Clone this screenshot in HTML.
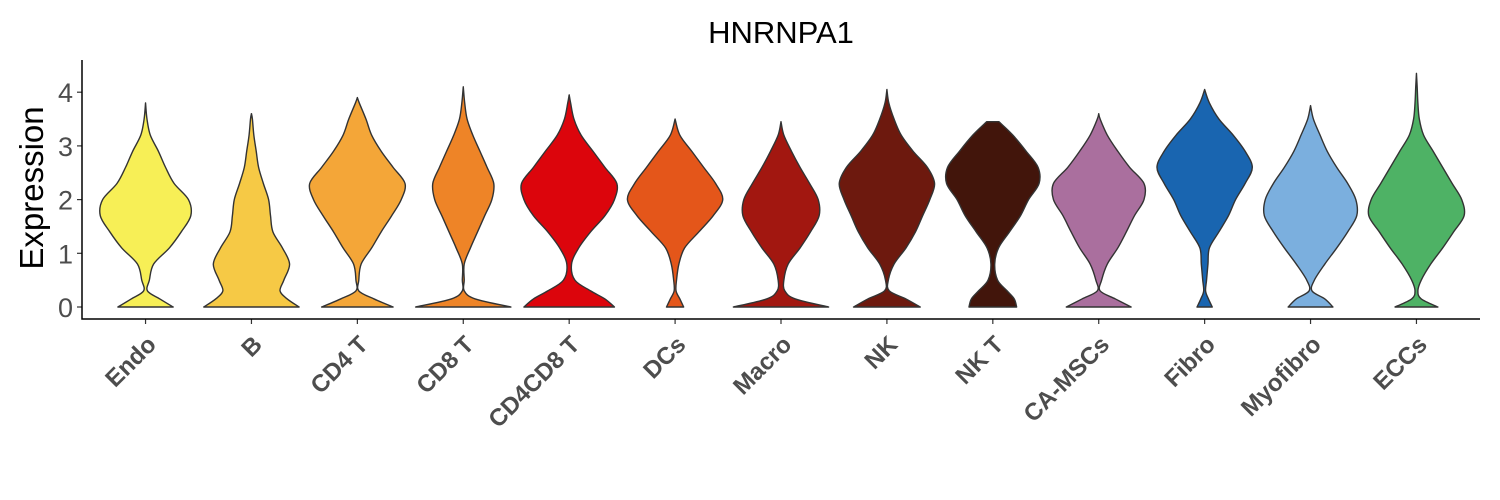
<!DOCTYPE html>
<html><head><meta charset="utf-8"><style>
body{margin:0;background:#fff;}
svg{display:block;font-family:"Liberation Sans",Arial,sans-serif;}
</style></head><body>
<svg id="chart" width="1500" height="500" viewBox="0 0 1500 500">
<text x="781" y="43" font-size="31" text-anchor="middle" fill="#000">HNRNPA1</text>
<text transform="translate(43,188) rotate(-90)" font-size="33" text-anchor="middle" fill="#000">Expression</text>
<g id="plot"></g>
</svg>
<script>
const categories=["Endo","B","CD4 T","CD8 T","CD4CD8 T","DCs","Macro","NK","NK T","CA-MSCs","Fibro","Myofibro","ECCs"];
const colors=["#F7EF56","#F6C945","#F4A638","#EE8427","#DC050C","#E4561A","#A21710","#6D190E","#42150B","#AA6F9E","#1965B0","#7BAFDE","#4EB265"];
const levels=[0,0.15,0.3,0.5,0.8,1.1,1.4,1.7,2.0,2.3,2.6,2.9,3.2,3.5,3.8,4.1];
const tops=[3.8,3.6,3.9,4.1,3.95,3.5,3.45,4.05,3.45,3.6,4.05,3.75,4.35];
const topWidths=[0,0,0,0,0,0,0,0,0.13,0,0,0,0];
const densities=[
[0.58,0.3,0.04,0.08,0.17,0.5,0.75,0.95,0.9,0.6,0.42,0.27,0.1,0.03],
[1.0,0.75,0.6,0.68,0.8,0.65,0.45,0.4,0.36,0.25,0.15,0.1,0.05,0.02],
[0.75,0.35,0.03,0.03,0.08,0.3,0.5,0.72,0.92,1.0,0.75,0.5,0.3,0.18,0.04],
[1.0,0.25,0.02,0.02,0.02,0.15,0.3,0.45,0.6,0.64,0.5,0.35,0.2,0.08,0.03,0.01],
[0.95,0.75,0.45,0.12,0.05,0.2,0.45,0.75,0.95,1.0,0.75,0.5,0.25,0.1,0.03],
[0.18,0.1,0.02,0.03,0.08,0.2,0.5,0.8,1.0,0.85,0.6,0.35,0.1],
[1.0,0.3,0.08,0.06,0.15,0.4,0.62,0.8,0.78,0.6,0.4,0.22,0.06],
[0.7,0.4,0.05,0.03,0.15,0.4,0.6,0.75,0.9,1.0,0.85,0.55,0.3,0.15,0.04,0.01],
[0.5,0.45,0.3,0.1,0.04,0.12,0.35,0.58,0.75,0.97,0.95,0.7,0.42],
[0.68,0.35,0.03,0.06,0.18,0.4,0.58,0.75,0.95,0.95,0.65,0.4,0.18,0.03],
[0.16,0.08,0.02,0.04,0.07,0.1,0.3,0.5,0.65,0.85,1.0,0.85,0.6,0.3,0.1,0.02],
[0.47,0.3,0.03,0.08,0.3,0.55,0.78,0.97,0.95,0.78,0.55,0.35,0.2,0.06],
[0.45,0.1,0.03,0.1,0.3,0.55,0.78,1.0,0.95,0.75,0.55,0.35,0.15,0.06,0.03,0.015]
];
const yTicks=[0,1,2,3,4];

const NS="http://www.w3.org/2000/svg";
const plot=document.getElementById('plot');
const X0=82,X1=1480,Y0=307,PX=53.7;
const band=(X1-X0)/(categories.length-1+1.2);
function xScale(i){return X0+band*(0.6+i);}
function yScale(v){return Y0-v*PX;}
const halfMax=band*0.45;

function crPath(pts){
  let d="";
  for(let i=0;i<pts.length-1;i++){
    const p0=pts[Math.max(0,i-1)],p1=pts[i],p2=pts[i+1],p3=pts[Math.min(pts.length-1,i+2)];
    const c1=[p1[0]+(p2[0]-p0[0])/6,p1[1]+(p2[1]-p0[1])/6];
    const c2=[p2[0]-(p3[0]-p1[0])/6,p2[1]-(p3[1]-p1[1])/6];
    d+=` C${c1[0].toFixed(2)},${c1[1].toFixed(2)} ${c2[0].toFixed(2)},${c2[1].toFixed(2)} ${p2[0].toFixed(2)},${p2[1].toFixed(2)}`;
  }
  return d;
}

categories.forEach((c,i)=>{
  const cx=xScale(i);
  const prof=[];
  densities[i].forEach((w,k)=>{ if(levels[k]<tops[i]) prof.push([levels[k],w]); });
  prof.push([tops[i],topWidths[i]]);
  const right=prof.map(p=>[cx+p[1]*halfMax,yScale(p[0])]);
  const left=prof.slice().reverse().map(p=>[cx-p[1]*halfMax,yScale(p[0])]);
  let d=`M${cx},${yScale(0)} L${right[0][0]},${right[0][1]}`+crPath(right);
  d+=` L${left[0][0]},${left[0][1]}`+crPath(left)+" Z";
  const path=document.createElementNS(NS,'path');
  path.setAttribute('d',d);
  path.setAttribute('fill',colors[i]);
  path.setAttribute('stroke','#333');
  path.setAttribute('stroke-width','1.4');
  path.setAttribute('stroke-linejoin','round');
  
  
  plot.appendChild(path);

  const tk=document.createElementNS(NS,'line');
  tk.setAttribute('x1',cx);tk.setAttribute('x2',cx);tk.setAttribute('y1',319);tk.setAttribute('y2',324);
  tk.setAttribute('stroke','#333');tk.setAttribute('stroke-width','1.2');
  
  
  plot.appendChild(tk);

  const t=document.createElementNS(NS,'text');
  t.setAttribute('transform',`translate(${cx+12},${346}) rotate(-45)`);
  t.setAttribute('text-anchor','end');
  t.setAttribute('font-size','24');
  t.setAttribute('font-weight','bold');
  t.setAttribute('fill','#4D4D4D');
  t.textContent=c;
  
  
  plot.appendChild(t);
});

yTicks.forEach(v=>{
  const y=yScale(v);
  const tk=document.createElementNS(NS,'line');
  tk.setAttribute('x1',77);tk.setAttribute('x2',82);tk.setAttribute('y1',y);tk.setAttribute('y2',y);
  tk.setAttribute('stroke','#333');tk.setAttribute('stroke-width','1.2');
  
  
  plot.appendChild(tk);
  const t=document.createElementNS(NS,'text');
  t.setAttribute('x',73);t.setAttribute('y',y+10);
  t.setAttribute('text-anchor','end');t.setAttribute('font-size','27');t.setAttribute('fill','#4D4D4D');
  t.textContent=v;
  
  
  plot.appendChild(t);
});

const ax=document.createElementNS(NS,'path');
ax.setAttribute('d','M82,60 L82,319 L1480,319');
ax.setAttribute('fill','none');ax.setAttribute('stroke','#000');ax.setAttribute('stroke-width','1.5');


plot.appendChild(ax);
</script>
</body></html>
